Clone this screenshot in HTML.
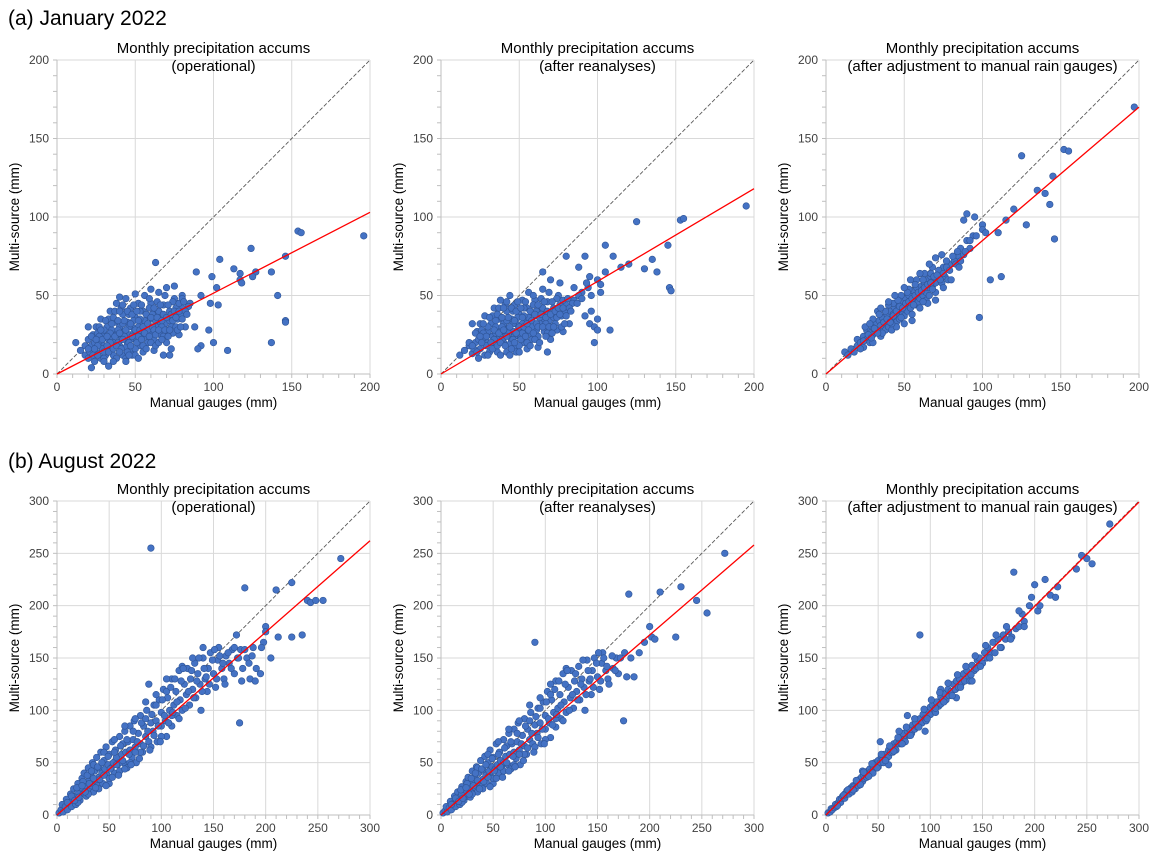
<!DOCTYPE html>
<html><head><meta charset="utf-8"><style>
body{margin:0;background:#fff;width:1160px;height:863px;overflow:hidden;font-family:"Liberation Sans",sans-serif}
svg{position:absolute;left:0;top:0}
</style></head><body>
<svg id="c" width="1160" height="863"></svg>
<script>
const xTicks=[0,50,100,150,200];
const yTicksJan=[0,50,100,150,200];
const xTicksAug=[0,50,100,150,200,250,300];
const subtitles=["(operational)","(after reanalyses)","(after adjustment to manual rain gauges)"];
const fitJan=[103,118,170];
const fitAug=[262,258,299];
const janOp=[[12,20],[15,15],[18,12],[20,22],[20,10],[22,18],[23,25],[25,14],[25,30],[27,20],[28,10],[28,35],[30,18],[30,25],[31,12],[32,30],[33,22],[34,40],[35,15],[35,28],[36,20],[37,33],[38,25],[38,45],[40,18],[40,30],[41,22],[42,38],[42,12],[43,27],[44,48],[45,20],[45,33],[46,25],[47,42],[48,15],[48,30],[50,22],[50,36],[51,28],[52,45],[53,18],[54,32],[55,25],[55,40],[56,50],[57,30],[58,20],[58,37],[60,28],[60,45],[61,35],[62,22],[63,71],[63,40],[64,30],[65,52],[66,25],[67,38],[68,44],[69,32],[70,55],[70,20],[72,40],[73,30],[75,48],[75,56],[77,35],[78,25],[80,42],[80,50],[82,30],[89,65],[85,45],[88,30],[92,50],[92,18],[90,16],[97,28],[98,45],[100,20],[99,62],[102,55],[104,73],[103,44],[113,67],[109,15],[117,60],[118,58],[117,64],[124,80],[127,65],[125,62],[137,20],[141,50],[137,65],[146,75],[146,34],[146,33],[154,91],[156,90],[196,88],[20,30],[24,8],[26,26],[29,16],[33,35],[36,12],[39,28],[41,42],[44,17],[46,38],[49,26],[52,24],[53,40],[56,34],[59,42],[61,26],[64,46],[66,33],[68,24],[71,36],[74,26],[76,42],[79,38],[22,4],[33,5],[40,49],[50,51],[60,54],[34,20],[38,10],[44,10],[48,12],[50,16],[55,14],[62,15],[68,12],[72,12],[30,28],[36,36],[42,32],[47,22],[53,35],[57,24],[63,34],[67,30],[72,34],[76,30],[18,18],[21,14],[24,20],[27,24],[30,14],[35,24],[39,20],[43,24],[46,30],[49,34],[52,30],[58,28],[61,38],[65,40],[70,28],[74,46],[78,45],[80,48],[84,43],
[20,16],[22,24],[23,12],[25,22],[26,18],[27,30],[29,22],[30,10],[31,34],[32,18],[33,14],[34,26],[35,32],[36,16],[37,24],[37,40],[38,18],[39,34],[40,26],[40,40],[41,16],[42,22],[42,44],[43,34],[44,28],[45,14],[45,40],[46,20],[47,32],[47,18],[48,24],[48,38],[49,44],[50,28],[50,12],[51,20],[51,40],[52,34],[53,28],[54,22],[54,44],[55,30],[55,18],[56,26],[57,38],[57,16],[58,32],[59,24],[59,48],[60,20],[60,36],[61,30],[62,42],[62,28],[63,18],[63,25],[64,36],[65,28],[65,20],[66,44],[67,22],[67,34],[68,38],[69,28],[69,50],[70,36],[71,24],[71,44],[72,28],[73,38],[73,16],[74,34],[75,40],[76,36],[77,28],[78,40],[79,30],[80,35],[81,46],[82,40],[83,38],[44,8],[46,12],[52,10],[40,14],[36,8],[30,8],[26,12],[28,28],[32,24],[24,16]];
const janRe=[[12,12],[15,15],[18,18],[20,13],[22,20],[23,27],[25,16],[25,32],[27,22],[28,12],[28,37],[30,20],[30,27],[31,14],[32,32],[33,24],[34,42],[35,17],[35,30],[36,22],[37,35],[38,27],[38,47],[40,20],[40,32],[41,24],[42,40],[42,14],[43,29],[44,50],[45,22],[45,35],[46,27],[47,44],[48,17],[48,32],[50,24],[50,38],[51,30],[52,47],[53,20],[54,34],[55,27],[55,42],[56,52],[57,32],[58,22],[58,39],[60,30],[60,47],[61,37],[62,24],[65,65],[63,42],[64,32],[65,54],[66,27],[67,40],[68,46],[69,34],[70,60],[70,22],[72,42],[73,32],[75,50],[76,58],[77,37],[78,27],[80,44],[80,75],[82,32],[88,68],[85,47],[92,75],[90,52],[92,37],[95,32],[95,62],[98,20],[98,30],[100,60],[102,57],[105,82],[108,28],[110,75],[115,68],[120,70],[125,97],[130,67],[135,73],[138,65],[145,82],[146,55],[147,53],[153,98],[155,99],[195,107],[20,32],[24,10],[26,28],[29,18],[33,37],[36,14],[39,30],[41,44],[44,19],[46,40],[49,28],[52,26],[53,42],[56,36],[59,44],[61,28],[64,48],[66,35],[68,26],[71,38],[74,28],[76,44],[79,40],[34,22],[38,12],[44,12],[48,14],[50,18],[55,16],[62,17],[68,14],[30,30],[36,38],[42,34],[47,24],[53,37],[57,26],[63,36],[67,32],[72,36],[18,20],[21,16],[24,22],[27,26],[35,26],[39,22],[43,26],[46,32],[49,36],[52,32],[58,30],[61,40],[65,42],[70,30],[74,48],[78,47],[84,45],[88,50],[94,55],[96,40],
[20,18],[22,26],[23,14],[25,24],[26,20],[27,32],[29,24],[30,12],[31,36],[32,20],[33,16],[34,28],[35,34],[36,18],[37,26],[37,42],[38,20],[39,36],[40,28],[40,42],[41,18],[42,24],[42,46],[43,36],[44,30],[45,16],[45,42],[46,22],[47,34],[47,20],[48,26],[48,40],[49,46],[50,30],[50,14],[51,22],[51,42],[52,36],[53,30],[54,24],[54,46],[55,32],[55,20],[56,28],[57,40],[57,18],[58,34],[59,26],[59,50],[60,22],[60,38],[61,32],[62,44],[62,30],[63,20],[64,38],[65,30],[66,46],[67,24],[67,36],[68,40],[69,30],[69,52],[70,38],[71,26],[71,46],[72,30],[73,40],[74,36],[75,42],[76,38],[77,30],[78,42],[79,32],[80,37],[81,48],[82,42],[83,40],[85,55],[87,45],[90,48],[93,58],[96,50],[100,28],[102,52],[105,65],[100,35]];
const janAdj=[[12,14],[14,12],[16,16],[18,14],[20,18],[20,22],[22,20],[24,17],[24,24],[26,22],[26,28],[28,20],[28,26],[30,25],[30,30],[32,27],[32,33],[34,28],[34,34],[35,24],[36,30],[36,36],[38,32],[38,28],[39,38],[40,34],[40,30],[41,40],[42,35],[42,28],[43,38],[44,36],[44,42],[45,33],[46,39],[46,44],[47,35],[48,41],[48,46],[49,38],[50,43],[50,37],[51,48],[52,44],[52,40],[53,50],[54,46],[54,42],[55,38],[56,48],[56,53],[57,44],[58,50],[58,55],[59,46],[60,52],[60,48],[61,56],[62,50],[62,54],[63,58],[64,52],[64,47],[65,60],[66,55],[66,50],[67,62],[68,56],[69,60],[70,58],[70,52],[72,62],[73,65],[74,58],[75,68],[76,62],[78,70],[78,60],[80,70],[82,72],[85,75],[86,80],[88,98],[90,102],[88,76],[92,80],[95,100],[98,36],[100,95],[105,60],[110,90],[112,62],[115,98],[120,105],[125,139],[128,95],[135,117],[140,115],[143,108],[145,126],[146,86],[152,143],[155,142],[197,170],[45,30],[50,32],[55,34],[60,42],[65,45],[70,47],[75,55],[80,60],[38,40],[43,45],[48,50],[53,54],[58,60],[63,64],[68,68],[30,35],[25,30],[33,40],[35,42],[28,32],[40,44],[46,47],[52,52],[57,57],[62,60],[67,64],[72,66],[77,72],[84,78],[90,85],[94,88],[100,92],[30,20],[36,26],[42,32],
[22,16],[24,21],[27,25],[29,23],[31,29],[33,26],[35,31],[37,33],[39,35],[41,33],[43,37],[45,40],[47,43],[49,42],[51,45],[53,46],[55,48],[57,50],[59,52],[61,53],[63,55],[65,57],[67,58],[69,62],[71,63],[73,60],[75,64],[77,68],[79,66],[81,75],[83,70],[86,72],[89,78],[92,85],[96,88],[102,90],[54,60],[60,64],[66,70],[70,74],[74,76],[50,55],[44,50],[40,46],[34,38],[62,46],[68,54],[56,44],[48,36],[85,68]];
const augOp=[[2,2],[4,5],[5,10],[6,3],[8,8],[9,15],[10,5],[12,12],[13,20],[14,8],[15,15],[16,25],[18,10],[18,18],[20,22],[20,30],[22,14],[23,26],[24,35],[25,20],[26,40],[27,28],[28,18],[30,32],[30,45],[31,24],[32,38],[33,28],[34,50],[35,22],[36,42],[37,33],[38,55],[39,28],[40,45],[40,36],[42,60],[43,40],[44,30],[45,52],[46,44],[47,65],[48,38],[49,48],[50,58],[50,30],[52,45],[53,70],[54,50],[55,40],[56,62],[57,55],[58,48],[60,75],[60,42],[62,58],[63,68],[64,50],[65,80],[66,60],[67,45],[68,70],[70,62],[70,85],[72,55],[73,72],[74,90],[75,65],[76,50],[78,78],[80,68],[80,95],[82,60],[83,85],[85,75],[86,100],[88,70],[88,125],[90,255],[90,88],[92,80],[93,105],[95,90],[96,70],[98,110],[100,85],[100,98],[102,120],[104,90],[105,75],[106,112],[108,100],[110,130],[110,85],[112,105],[114,118],[115,95],[117,138],[118,110],[120,100],[122,125],[124,115],[125,140],[127,105],[128,130],[130,120],[132,145],[133,112],[135,135],[137,125],[138,100],[140,150],[142,130],[144,118],[145,140],[147,155],[150,135],[152,122],[154,148],[155,160],[158,140],[160,130],[162,152],[165,145],[168,158],[170,135],[172,172],[173,150],[175,88],[176,158],[178,140],[180,217],[182,150],[185,130],[188,160],[190,128],[195,135],[198,165],[200,180],[200,175],[205,150],[210,215],[212,170],[225,222],[225,170],[235,172],[240,205],[243,203],[248,205],[255,205],[272,245],[20,12],[30,20],[40,25],[50,35],[60,50],[70,50],[80,60],[90,65],[100,75],[110,95],[25,32],[35,48],[45,60],[55,72],[65,85],[75,92],[85,108],[95,115],[105,130],[120,142],[130,150],[140,160],
[10,12],[14,18],[17,14],[19,26],[21,17],[24,28],[27,22],[29,38],[31,30],[33,42],[35,35],[37,26],[39,46],[41,34],[43,50],[45,38],[47,28],[49,56],[51,44],[53,36],[55,60],[57,48],[59,38],[61,66],[63,52],[65,44],[67,72],[69,58],[71,48],[73,80],[75,60],[77,70],[79,54],[81,88],[83,66],[85,92],[87,80],[89,62],[91,96],[93,76],[95,105],[97,85],[99,70],[101,110],[103,95],[105,118],[107,88],[109,122],[111,98],[113,130],[115,108],[117,92],[119,128],[121,140],[123,102],[126,118],[129,138],[131,112],[134,128],[136,150],[139,118],[141,140],[143,132],[146,125],[149,148],[151,158],[153,130],[156,152],[159,145],[161,125],[164,155],[167,140],[170,160],[174,150],[177,128],[180,158],[184,145],[187,152],[191,140],[196,160]];
const augRe=[[2,2],[4,4],[5,8],[6,3],[8,7],[9,13],[10,5],[12,11],[13,18],[14,8],[15,14],[16,22],[18,10],[18,17],[20,20],[20,27],[22,14],[23,24],[24,32],[25,18],[26,36],[27,26],[28,17],[30,30],[30,42],[31,22],[32,36],[33,26],[34,46],[35,22],[36,40],[37,31],[38,52],[39,27],[40,43],[40,34],[42,56],[43,38],[44,30],[45,50],[46,42],[47,62],[48,36],[49,46],[50,55],[50,30],[52,44],[53,68],[54,48],[55,40],[56,60],[57,52],[58,46],[60,72],[60,42],[62,56],[63,66],[64,48],[65,78],[66,58],[67,44],[68,68],[70,60],[70,82],[72,54],[73,70],[74,88],[75,62],[76,48],[78,76],[80,66],[80,92],[82,58],[83,82],[85,72],[86,98],[88,68],[90,165],[90,86],[92,78],[93,102],[95,88],[96,68],[98,108],[100,82],[100,95],[102,118],[104,88],[105,74],[106,110],[108,98],[110,128],[110,84],[112,102],[114,115],[115,92],[117,135],[118,108],[120,98],[122,122],[124,112],[125,138],[127,102],[128,128],[130,118],[132,142],[133,110],[135,130],[137,122],[138,100],[140,148],[142,128],[144,115],[145,138],[147,150],[150,132],[152,120],[154,145],[155,155],[158,138],[160,130],[165,140],[168,150],[170,135],[172,150],[175,90],[176,155],[178,132],[180,211],[182,150],[185,132],[190,155],[195,165],[200,180],[202,170],[205,168],[210,213],[225,170],[230,218],[245,205],[255,193],[272,250],[20,12],[30,20],[40,25],[50,35],[60,50],[70,48],[80,58],[90,65],[100,72],[110,92],[25,30],[35,45],[45,58],[55,70],[65,82],[75,90],[85,105],[95,112],[105,125],[120,140],
[10,10],[14,16],[17,13],[19,24],[21,16],[24,26],[27,20],[29,35],[31,28],[33,40],[35,33],[37,25],[39,44],[41,32],[43,48],[45,36],[47,27],[49,54],[51,42],[53,35],[55,58],[57,46],[59,36],[61,64],[63,50],[65,42],[67,70],[69,56],[71,46],[73,78],[75,58],[77,68],[79,52],[81,85],[83,64],[85,90],[87,78],[89,60],[91,94],[93,74],[95,102],[97,82],[99,68],[101,108],[103,92],[105,115],[107,86],[109,120],[111,96],[113,128],[115,105],[117,90],[119,125],[121,138],[123,100],[126,115],[129,135],[131,110],[134,125],[136,148],[139,115],[141,138],[143,130],[146,122],[149,145],[151,155],[153,128],[156,150],[159,142],[161,125],[164,152],[167,138]];
const augAdj=[[2,2],[4,3],[5,6],[6,5],[8,7],[9,10],[10,8],[12,12],[13,15],[14,12],[15,16],[16,18],[18,16],[18,20],[20,20],[20,23],[22,20],[23,25],[24,26],[25,22],[26,28],[27,27],[28,25],[30,30],[30,33],[31,28],[32,34],[33,31],[34,36],[35,32],[36,38],[37,35],[38,40],[39,36],[40,42],[40,38],[42,44],[43,41],[44,40],[45,47],[46,44],[47,50],[48,45],[49,50],[50,52],[50,46],[52,50],[53,56],[54,52],[55,50],[56,58],[57,55],[58,54],[60,62],[60,56],[62,60],[63,65],[64,60],[65,68],[66,64],[67,62],[68,70],[70,68],[70,73],[72,68],[73,75],[74,78],[75,72],[76,70],[78,80],[80,76],[80,82],[82,78],[83,86],[85,82],[86,88],[88,84],[90,172],[90,92],[92,88],[93,96],[95,92],[96,90],[98,100],[100,96],[100,103],[102,105],[104,100],[105,98],[106,108],[108,104],[110,113],[110,106],[112,110],[114,116],[115,110],[117,120],[118,114],[120,118],[122,125],[124,120],[125,128],[127,122],[128,130],[130,126],[132,135],[133,128],[135,138],[137,132],[138,128],[140,143],[142,138],[144,140],[145,148],[147,150],[150,145],[152,155],[154,150],[155,160],[158,155],[160,165],[162,155],[165,168],[168,160],[170,172],[172,168],[175,175],[178,170],[180,232],[182,178],[185,180],[188,192],[190,185],[195,200],[200,220],[203,195],[210,225],[215,210],[220,208],[222,218],[240,235],[245,248],[250,245],[255,240],[272,278],[52,70],[78,95],[60,48],[95,80],[125,112],[140,128],[35,42],[45,40],[70,80],[110,120],
[11,9],[17,19],[21,24],[26,24],[29,33],[33,29],[36,41],[41,37],[44,49],[49,45],[53,58],[57,52],[61,66],[65,61],[69,74],[73,68],[77,84],[81,76],[85,92],[89,84],[94,101],[97,92],[101,110],[105,102],[109,117],[113,108],[117,126],[121,114],[126,134],[129,122],[134,142],[139,134],[143,152],[148,142],[153,162],[157,150],[163,172],[167,160],[173,180],[177,168],[185,195],[190,180],[197,208],[205,200]];
const panelsData=[janOp,janRe,janAdj,augOp,augRe,augAdj];

const NS="http://www.w3.org/2000/svg";
const svg=document.getElementById('c');
function mk(tag,attrs,parent,text){const e=document.createElementNS(NS,tag);for(const k in attrs)e.setAttribute(k,attrs[k]);if(text!==undefined)e.textContent=text;(parent||svg).appendChild(e);return e;}
const colX=[57,441,826];const W=313;
const rows=[{top:60,bot:374,max:200,yt:yTicksJan,xt:xTicks,fit:fitJan},{top:501,bot:815,max:300,yt:[0,50,100,150,200,250,300],xt:xTicksAug,fit:fitAug}];
let t=mk('text',{x:8,y:25,'font-size':21,fill:'#000'},svg,'(a) January 2022');


t=mk('text',{x:8,y:468,'font-size':21,fill:'#000'},svg,'(b) August 2022');


rows.forEach((r,ri)=>{
 colX.forEach((x0,ci)=>{
  const g=mk('g',{});
  
  
  const sx=v=>x0+v/r.max*W, sy=v=>r.bot-v/r.max*(r.bot-r.top);
  r.xt.forEach(v=>{if(v>0){const l=mk('line',{x1:sx(v),x2:sx(v),y1:r.top,y2:r.bot,stroke:'#d9d9d9','stroke-width':1},g);}});
  r.yt.forEach(v=>{if(v>0){const l=mk('line',{x1:x0,x2:x0+W,y1:sy(v),y2:sy(v),stroke:'#d9d9d9','stroke-width':1},g);}});
  for(let v=0;v<=r.max;v+=10){mk('line',{x1:sx(v),x2:sx(v),y1:r.bot,y2:r.bot+4,stroke:'#bfbfbf'},g);mk('line',{x1:x0-4,x2:x0,y1:sy(v),y2:sy(v),stroke:'#bfbfbf'},g);}
  mk('line',{x1:x0,x2:x0+W,y1:r.bot,y2:r.bot,stroke:'#bfbfbf'},g);
  mk('line',{x1:x0,x2:x0,y1:r.top,y2:r.bot,stroke:'#bfbfbf'},g);
  r.xt.forEach(v=>{const e=mk('text',{x:sx(v),y:r.bot+17,'font-size':12,'text-anchor':'middle',fill:'#404040'},g,v);});
  r.yt.forEach(v=>{const e=mk('text',{x:x0-8,y:sy(v)+4,'font-size':12,'text-anchor':'end',fill:'#404040'},g,v);});
  const d=mk('line',{x1:sx(0),y1:sy(0),x2:sx(r.max),y2:sy(r.max),stroke:'#595959','stroke-width':0.9,'stroke-dasharray':'4,2'},g);
  
  panelsData[ri*3+ci].forEach(p=>{const c=mk('circle',{cx:sx(p[0]),cy:sy(p[1]),r:3.3,fill:'#4472c4',stroke:'#2f5597','stroke-width':0.6},g);});
  const f=mk('line',{x1:sx(0),y1:sy(0),x2:sx(r.max),y2:sy(r.fit[ci]),stroke:'#ff0000','stroke-width':1.3},g);
  
  const tt=mk('text',{x:x0+W/2,y:r.top-7,'font-size':15,'text-anchor':'middle',fill:'#000'},g,'Monthly precipitation accums');
  
  const st=mk('text',{x:x0+W/2,y:r.top+11,'font-size':15,'text-anchor':'middle',fill:'#000'},g,subtitles[ci]);
  
  const xl=mk('text',{x:x0+W/2,y:r.bot+33,'font-size':13.5,'text-anchor':'middle',fill:'#000'},g,'Manual gauges (mm)');
  
  const yc=(r.top+r.bot)/2, yx=x0-38;
  const yl=mk('text',{x:yx,y:yc,'font-size':13.5,'text-anchor':'middle',fill:'#000',transform:`rotate(-90 ${yx} ${yc})`},g,'Multi-source (mm)');
  
 });
});
</script>
</body></html>
